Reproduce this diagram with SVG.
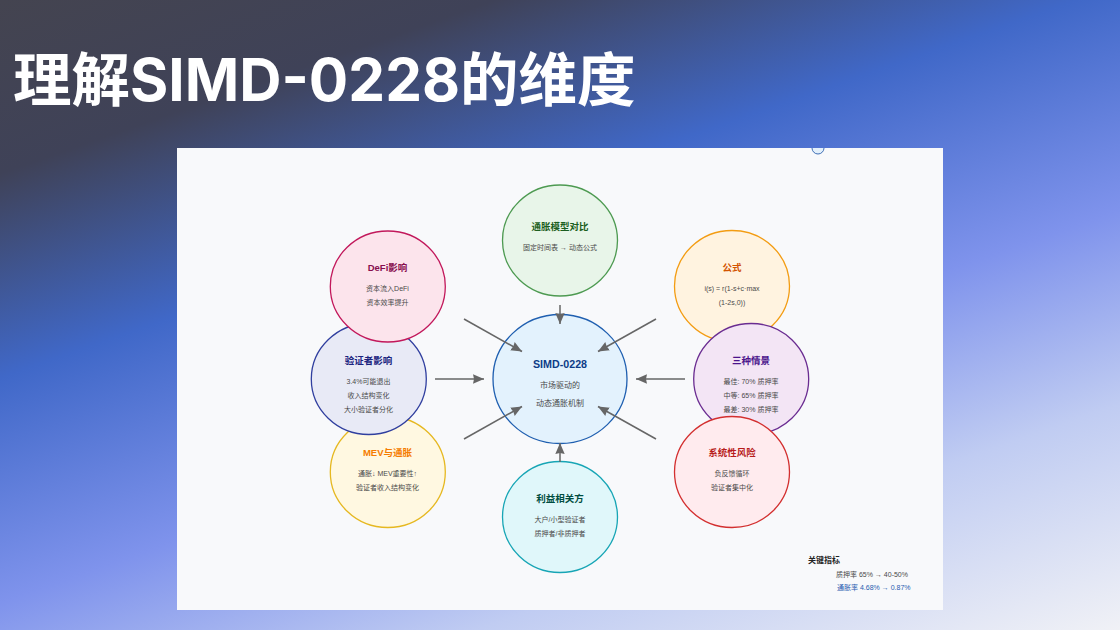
<svg xmlns="http://www.w3.org/2000/svg" width="1120" height="630" viewBox="0 0 1120 630">
<defs>
<linearGradient id="bg" gradientUnits="userSpaceOnUse" x1="0" y1="0" x2="319" y2="910">
<stop offset="0" stop-color="#444450"/>
<stop offset="0.17" stop-color="#3f4258"/>
<stop offset="0.37" stop-color="#4068c8"/>
<stop offset="0.59" stop-color="#7f93ec"/>
<stop offset="0.78" stop-color="#c0ccf2"/>
<stop offset="1" stop-color="#f0f1f6"/>
</linearGradient>
<marker id="ah" markerUnits="userSpaceOnUse" markerWidth="13" markerHeight="11" refX="11" refY="5" orient="auto"><path d="M0 0.300L11 5L0 9.700L1 5z" fill="#666"/></marker>
<clipPath id="panelclip"><rect x="177" y="148" width="766" height="462"/></clipPath>
</defs>
<style>
text{font-family:"Liberation Sans","Noto Sans CJK SC",sans-serif;text-anchor:middle}
.h{font-size:9.500px;font-weight:700}
.b{font-size:7px;fill:#4a4a4a}
.m{font-size:8px;fill:#4a4a4a}
.c{stroke-width:1.300}
.l{stroke:#666;stroke-width:1.500;fill:none;marker-end:url(#ah)}
</style>
<rect width="1120" height="630" fill="url(#bg)"/>
<text x="13" y="100.500" font-size="58.500" font-weight="700" fill="#fff" style="text-anchor:start;font-family:Inter,'Noto Sans CJK SC',sans-serif">理解SIMD-0228的维度</text>
<rect x="177" y="148" width="766" height="462" fill="#f8f9fb"/>
<circle cx="818" cy="148" r="6" fill="#e3f0fb" stroke="#3f6fb5" stroke-width="1" clip-path="url(#panelclip)"/>
<g id="node-formula"><ellipse class="c" cx="732" cy="286" rx="57.500" ry="55.500" fill="#fff3e0" stroke="#f39c12"/>
<text class="h" x="732" y="271" fill="#d35400">公式</text><text class="b" x="732" y="290.500">i(s) = r(1-s+c·max</text><text class="b" x="732" y="304.500">(1-2s,0))</text></g>
<g id="node-scenarios"><ellipse class="c" cx="751.200" cy="379" rx="57.500" ry="55.500" fill="#f3e5f5" stroke="#6a2c91"/>
<text class="h" x="751" y="363.500" fill="#4a148c">三种情景</text><text class="b" x="751" y="383.500">最佳: 70% 质押率</text><text class="b" x="751" y="397.500">中等: 65% 质押率</text><text class="b" x="751" y="411.500">最差: 30% 质押率</text></g>
<g id="node-risk"><ellipse class="c" cx="732" cy="472" rx="57.500" ry="55.500" fill="#ffebee" stroke="#d32f2f"/>
<text class="h" x="732" y="456" fill="#b71c1c">系统性风险</text><text class="b" x="732" y="475.500">负反馈循环</text><text class="b" x="732" y="489.500">验证者集中化</text></g>
<g id="node-mev"><ellipse class="c" cx="387.800" cy="472" rx="57.500" ry="55.500" fill="#fff8e1" stroke="#e6b820"/>
<text class="h" x="387.500" y="456" fill="#f57c00">MEV与通胀</text><text class="b" x="387.500" y="475.500">通胀↓ MEV重要性↑</text><text class="b" x="387.500" y="489.500">验证者收入结构变化</text></g>
<g id="node-validator"><ellipse class="c" cx="368.800" cy="379" rx="57.500" ry="55.500" fill="#e8eaf6" stroke="#303f9f"/>
<text class="h" x="368.500" y="363.500" fill="#1a237e">验证者影响</text><text class="b" x="368.500" y="383.500">3.4%可能退出</text><text class="b" x="368.500" y="397.500">收入结构变化</text><text class="b" x="368.500" y="411.500">大小验证者分化</text></g>
<g id="node-defi"><ellipse class="c" cx="387.800" cy="286.500" rx="57.500" ry="55.500" fill="#fce4ec" stroke="#c2185b"/>
<text class="h" x="387.500" y="271" fill="#880e4f">DeFi影响</text><text class="b" x="387.500" y="290.500">资本流入DeFi</text><text class="b" x="387.500" y="304.500">资本效率提升</text></g>
<g id="node-model"><ellipse class="c" cx="560" cy="240.500" rx="57.500" ry="55.500" fill="#e8f5e9" stroke="#4d9a51"/>
<text class="h" x="560" y="230" fill="#1b5e20">通胀模型对比</text><text class="b" x="560" y="249.500">固定时间表 → 动态公式</text></g>
<g id="node-stake"><ellipse class="c" cx="560" cy="517" rx="57.500" ry="55.500" fill="#e0f7fa" stroke="#17a5b5"/>
<text class="h" x="560" y="502" fill="#004d40">利益相关方</text><text class="b" x="560" y="521.500">大户/小型验证者</text><text class="b" x="560" y="535.500">质押者/非质押者</text></g>
<g id="node-center"><ellipse class="c" cx="560" cy="379" rx="67" ry="64.500" fill="#e3f2fd" stroke="#1f5fb0"/>
<text x="560" y="367.500" font-size="10.700" font-weight="700" fill="#0d3c87">SIMD-0228</text><text class="m" x="560" y="387.500">市场驱动的</text><text class="m" x="560" y="406">动态通胀机制</text></g>
<g id="connectors">
<line class="l" x1="464" y1="319" x2="522" y2="351.500"/>
<line class="l" x1="656" y1="319" x2="598" y2="351.500"/>
<line class="l" x1="435" y1="379" x2="484" y2="379"/>
<line class="l" x1="685" y1="379" x2="636" y2="379"/>
<line class="l" x1="464" y1="439" x2="522" y2="406.500"/>
<line class="l" x1="656" y1="439" x2="598" y2="406.500"/>
<line class="l" x1="560" y1="305" x2="560" y2="324"/>
<line class="l" x1="560" y1="462" x2="560" y2="443"/>
</g>
<g id="metrics">
<text x="808" y="563" font-size="8" font-weight="700" fill="#222" style="text-anchor:start">关键指标</text>
<text x="836" y="577" font-size="7" fill="#4a4a4a" style="text-anchor:start">质押率 65% → 40-50%</text>
<text x="837" y="590" font-size="7" fill="#2a5db0" style="text-anchor:start">通胀率 4.68% → 0.87%</text>
</g>
</svg>
